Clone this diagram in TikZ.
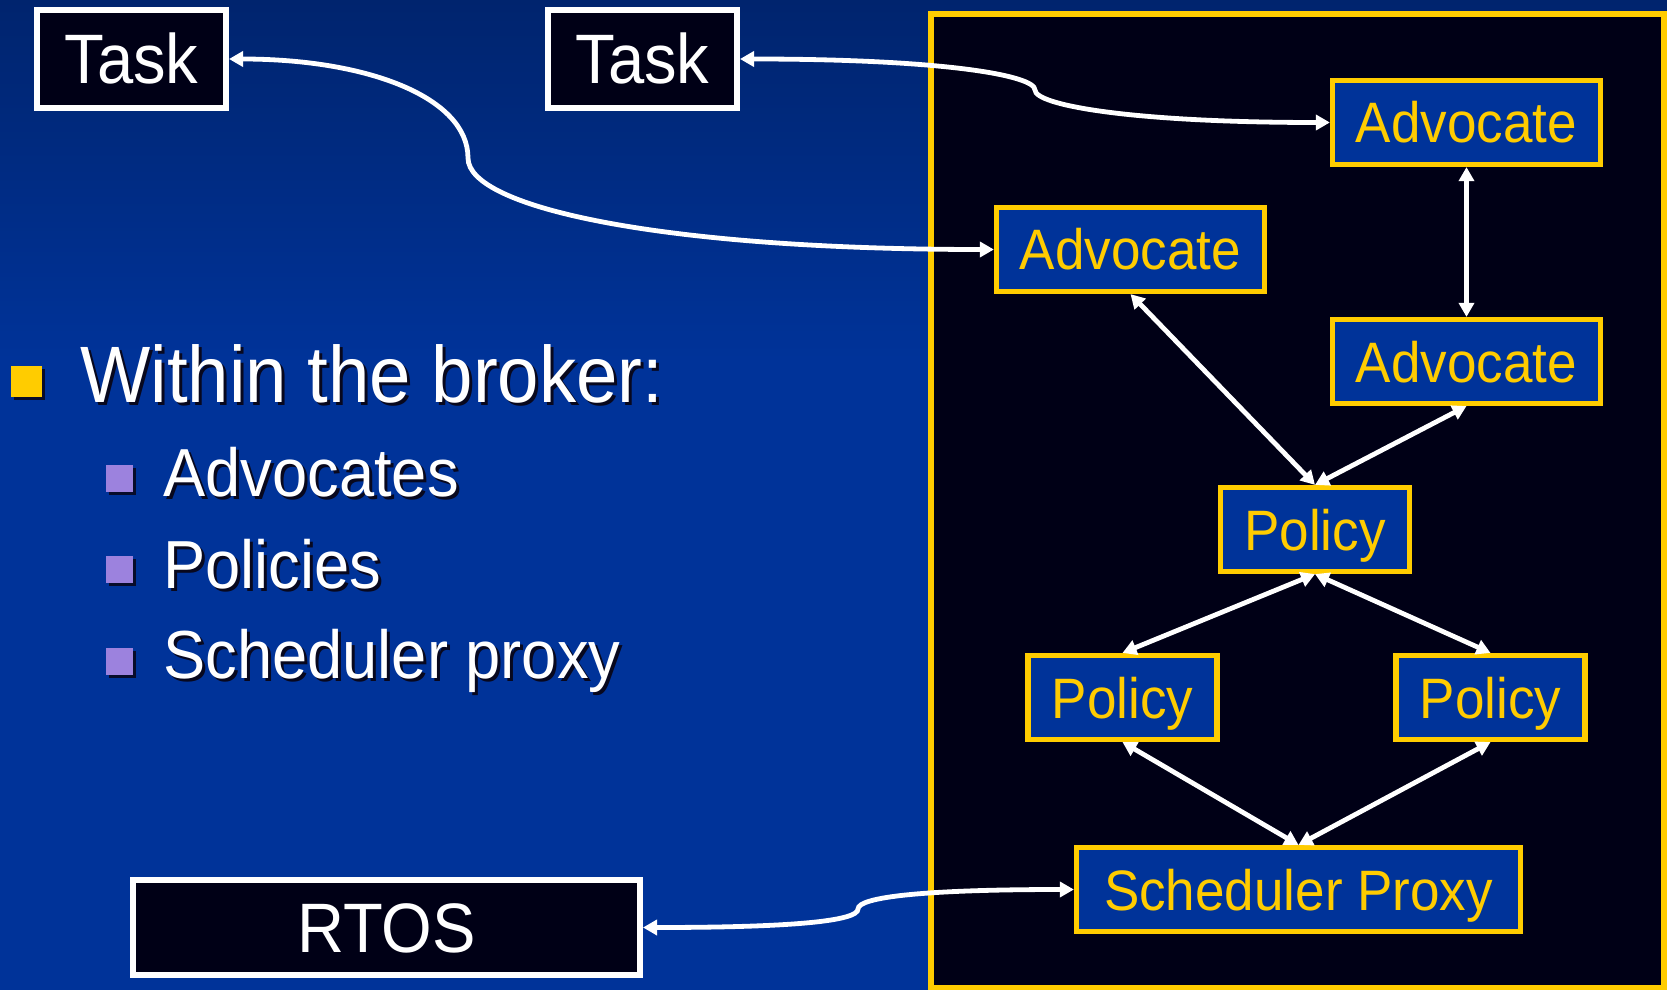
\documentclass[tikz,border=0pt]{standalone}
\usepackage{fontspec}
\setmainfont{Liberation Sans}[FakeStretch=0.93]
\usetikzlibrary{
  arrows.meta,
  backgrounds,
  calc,
  positioning,
  shadows,
}
\definecolor{slideblue}{RGB}{0,51,153}
\definecolor{slidetop}{RGB}{0,36,110}
\definecolor{brokerbg}{RGB}{0,0,22}
\definecolor{brokeryellow}{RGB}{255,204,0}
\definecolor{bulletpurple}{RGB}{156,130,222}
\definecolor{shadowgrey}{RGB}{8,8,30}
\tikzset{
  >={Triangle[length=7pt,width=7.5pt]},
  shorten >=0pt,
  link/.style={<->, draw=white, line width=2.4pt},
  outerbox/.style={draw=white, line width=3pt, fill=brokerbg, text=white,
    minimum width=94.5pt, minimum height=49pt, text height=25pt, text depth=0pt,
    font=\fontsize{35}{38}\selectfont},
  brokerbox/.style={draw=brokeryellow, line width=2.6pt, fill=slideblue, text=brokeryellow,
    minimum width=134pt, minimum height=42pt, text height=20.5pt, text depth=0pt,
    font=\fontsize{28.5}{30}\selectfont},
  bulletsq/.style={inner sep=0pt, drop shadow={shadow xshift=1.5pt, shadow yshift=-1.5pt,
    fill=shadowgrey, opacity=0.9}},
  itemtext/.style={anchor=base west, inner sep=0pt, text=white,
    font=\fontsize{34}{36}\selectfont},
}
\newcommand\shadowtext[1]{\rlap{\kern1.5pt\raisebox{-1.5pt}{\color{shadowgrey}#1}}#1}

\begin{document}
\begin{tikzpicture}[x=0.5pt, y=-0.5pt]
  \useasboundingbox (0,0) rectangle (1667,990);
  \fill[slideblue] (0,0) rectangle (1667,990);
  \shade[top color=slidetop, bottom color=slideblue] (0,0) rectangle (1667,360);
  \draw[brokeryellow, line width=2.6pt, fill=brokerbg] (931,14) rectangle (1664,988);

  \node[outerbox] (task1) at (131.5,59) {Task};
  \node[outerbox] (task2) at (642.5,59) {Task};
  \node[outerbox, minimum width=253.5pt, minimum height=47.5pt] (rtos) at (386.5,927.5) {RTOS};

  \node[brokerbox] (adv1) at (1466.5,122.5) {Advocate};
  \node[brokerbox] (adv2) at (1130.5,249.5) {Advocate};
  \node[brokerbox] (adv3) at (1466.5,361.5) {Advocate};
  \node[brokerbox, minimum width=94.5pt] (pol1) at (1315,529.5) {Policy};
  \node[brokerbox, minimum width=94.5pt] (pol2) at (1122.5,697.5) {Policy};
  \node[brokerbox, minimum width=94.5pt] (pol3) at (1490.5,697.5) {Policy};
  \node[brokerbox, minimum width=222pt] (proxy) at (1298.5,889.5) {Scheduler Proxy};

  \node[bulletsq, fill=brokeryellow, minimum size=15.5pt] (bulmain) at (26.5,381) {};
  \node[itemtext, font=\fontsize{40}{44}\selectfont] (within) at (80,402)
    {\shadowtext{Within the broker:}};
  \foreach \y/\base/\name/\txt in {
    478/496/itemadv/Advocates,
    569.5/588/itempol/Policies,
    661.5/678/itemprox/Scheduler proxy
  } {
    \node[bulletsq, fill=bulletpurple, minimum size=13.5pt] (bul-\name) at (119.5,\y) {};
    \node[itemtext] (\name) at (163,\base) {\shadowtext{\txt}};
  }

  \coordinate (bendA) at (468,158);
  \coordinate (bendB) at (1035,90);
  \coordinate (bendC) at (858,909);
  \draw[link] (task1.east) .. controls +(140,0) and +(0,-60) .. (bendA)
    .. controls +(0,50) and +(-330,0) .. (adv2.west);
  \draw[link] (task2.east) .. controls +(200,0) and +(0,-15) .. (bendB)
    .. controls +(0,15) and +(-200,0) .. (adv1.west);
  \draw[link] (rtos.east) .. controls +(150,0) and +(0,12) .. (bendC)
    .. controls +(0,-12) and +(-150,0) .. (proxy.west);

  \foreach \a/\b in {adv1/adv3, adv2/pol1, adv3/pol1, pol1/pol2, pol1/pol3, pol2/proxy, pol3/proxy}
    \draw[link] (\a.south) -- (\b.north);
\end{tikzpicture}
\end{document}
